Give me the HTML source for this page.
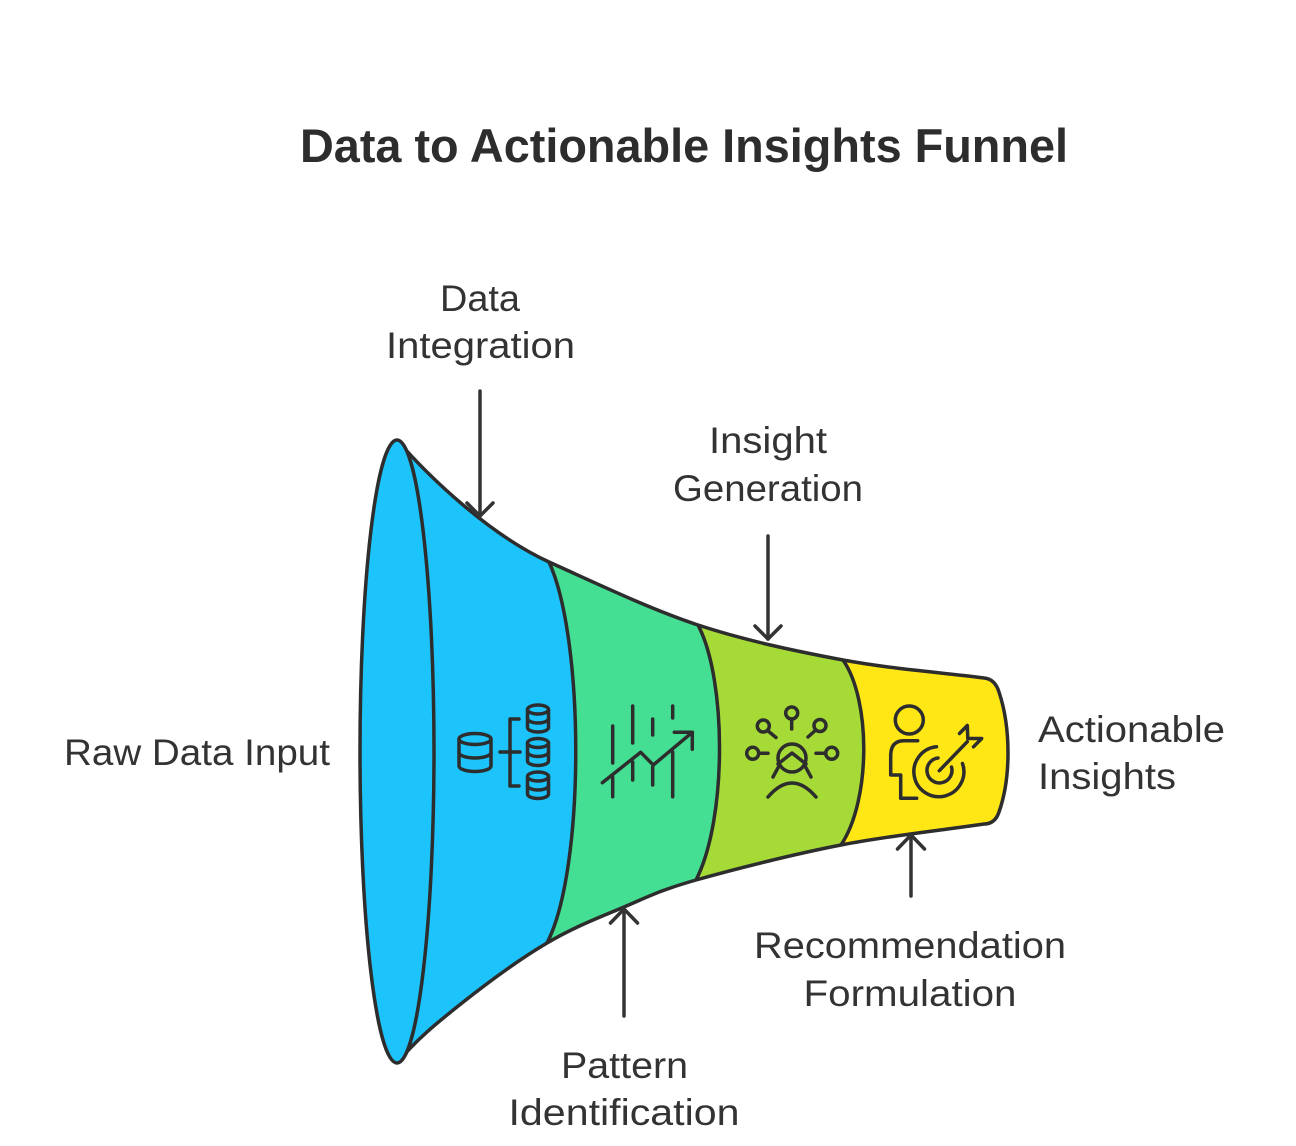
<!DOCTYPE html>
<html>
<head>
<meta charset="utf-8">
<style>
  html,body{margin:0;padding:0;background:#ffffff;}
  svg{display:block;}
  .lbl{font-family:"Liberation Sans",Arial,sans-serif;font-size:37px;fill:#333333;}
  .ttl{font-family:"Liberation Sans",Arial,sans-serif;font-size:47px;font-weight:bold;fill:#2d2d2d;}
  .ic{fill:none;stroke:#2d2d2d;stroke-width:3.5;stroke-linecap:round;stroke-linejoin:round;}
  .ar{fill:none;stroke:#333333;stroke-width:3.5;stroke-linecap:round;stroke-linejoin:round;}
</style>
</head>
<body>
<svg width="1296" height="1146" viewBox="0 0 1296 1146" xmlns="http://www.w3.org/2000/svg">
  <rect width="1296" height="1146" fill="#ffffff"/>

  <!-- Title -->
  <text class="ttl" x="684" y="162" text-anchor="middle" textLength="768" lengthAdjust="spacingAndGlyphs">Data to Actionable Insights Funnel</text>

  <defs>
    <clipPath id="body">
      <path d="M397,440 C430,478 490,535 549,562 C600,585 650,609 698,625 C747,641 795,651 843,660 C890.7,668.8 937,672 984,678 Q995,679 999,692 C1011,728 1011,778 999,812 Q995,824 984,824 C936.3,831 889,835.7 841,845 C793,854.3 732.2,869.7 696,880 C659.8,890.3 648.8,896.5 624,907 C599.2,917.5 574,927 547,943 C520,959 487.2,983 462,1003 C436.8,1023 416,1039.7 397,1063 A37,311.5 0 0 1 397,440 Z"/>
    </clipPath>
  </defs>

  <!-- Funnel fills -->
  <g clip-path="url(#body)">
    <rect x="300" y="300" width="800" height="850" fill="#FFE716"/>
    <path d="M300,300 L843,300 L843,660 C871,700 871,800 841,845 L841,1100 L300,1100 Z" fill="#A6DB37"/>
    <path d="M300,300 L698,300 L698,625 C727,680 727,820 696,880 L696,1100 L300,1100 Z" fill="#45DF94"/>
    <path d="M300,300 L549,300 L549,562 C585,640 585,870 547,943 L547,1100 L300,1100 Z" fill="#1DC4FB"/>
  </g>

  <!-- Funnel strokes -->
  <path d="M397,440 C430,478 490,535 549,562 C600,585 650,609 698,625 C747,641 795,651 843,660 C890.7,668.8 937,672 984,678 Q995,679 999,692 C1011,728 1011,778 999,812 Q995,824 984,824 C936.3,831 889,835.7 841,845 C793,854.3 732.2,869.7 696,880 C659.8,890.3 648.8,896.5 624,907 C599.2,917.5 574,927 547,943 C520,959 487.2,983 462,1003 C436.8,1023 416,1039.7 397,1063" fill="none" stroke="#2d2d2d" stroke-width="3.5" stroke-linejoin="round"/>
  <ellipse cx="397" cy="751.5" rx="37" ry="311.5" fill="#1DC4FB" stroke="#2d2d2d" stroke-width="3.5"/>
  <path d="M549,562 C585,640 585,870 547,943" fill="none" stroke="#2d2d2d" stroke-width="3.5"/>
  <path d="M698,625 C727,680 727,820 696,880" fill="none" stroke="#2d2d2d" stroke-width="3.5"/>
  <path d="M843,660 C871,700 871,800 841,845" fill="none" stroke="#2d2d2d" stroke-width="3.5"/>

  <!-- Icon 1: databases -->
  <g class="ic">
    <ellipse cx="475" cy="739" rx="16" ry="5.5"/>
    <path d="M459,739 V766 A16,5.5 0 0 0 491,766 V739"/>
    <path d="M459,752.5 A16,5.5 0 0 0 491,752.5"/>
    <path d="M500,752 H520"/>
    <path d="M519,719 H510 V786 H519"/>
    <ellipse cx="538" cy="709.5" rx="10.5" ry="4.5"/>
    <path d="M527.5,709.5 V727.5 A10.5,4.5 0 0 0 548.5,727.5 V709.5"/>
    <path d="M527.5,718.5 A10.5,4.5 0 0 0 548.5,718.5"/>
    <ellipse cx="538" cy="743" rx="10.5" ry="4.5"/>
    <path d="M527.5,743 V761 A10.5,4.5 0 0 0 548.5,761 V743"/>
    <path d="M527.5,752 A10.5,4.5 0 0 0 548.5,752"/>
    <ellipse cx="538" cy="776.5" rx="10.5" ry="4.5"/>
    <path d="M527.5,776.5 V794 A10.5,4.5 0 0 0 548.5,794 V776.5"/>
    <path d="M527.5,785.5 A10.5,4.5 0 0 0 548.5,785.5"/>
  </g>

  <!-- Icon 2: chart -->
  <g class="ic">
    <path d="M612.7,726 V763"/>
    <path d="M612.7,777 V796.7"/>
    <path d="M632.7,706 V743"/>
    <path d="M632.7,762 V780"/>
    <path d="M652.7,719 V735"/>
    <path d="M652.7,767 V785"/>
    <path d="M672.7,706 V718"/>
    <path d="M672.7,752 V796.7"/>
    <path d="M602.3,782.7 L640.7,752.3 L653.3,765 L692.3,732.3"/>
    <path d="M674.3,732.3 H692.3 V749.3"/>
  </g>

  <!-- Icon 3: person with nodes -->
  <g class="ic">
    <circle cx="792" cy="758" r="14"/>
    <path d="M778,764 L792,753 L806,764"/>
    <path d="M779,766 L773,777"/>
    <path d="M805,766 L811,777"/>
    <path d="M768,797 Q792,769 816,797"/>
    <circle cx="791.7" cy="713" r="6"/>
    <path d="M791.7,719 V729"/>
    <circle cx="763.3" cy="726" r="6"/>
    <path d="M767.5,730.5 L776,737.5"/>
    <circle cx="820" cy="725.5" r="6"/>
    <path d="M815.8,730 L808,737"/>
    <circle cx="752.7" cy="753.3" r="6"/>
    <path d="M758.7,753.3 H768"/>
    <circle cx="831.7" cy="753.3" r="6"/>
    <path d="M825.7,753.3 H816"/>
  </g>

  <!-- Icon 4: person with target -->
  <g class="ic">
    <circle cx="909.3" cy="720" r="14"/>
    <path d="M917.7,740.7 H903.5 Q891,741 890.7,755 V775 H900.7 V798.3 H916.7"/>
    <path d="M936.5,746.8 A25,25 0 1 0 962.5,763.5"/>
    <path d="M938,758 A12.5,12.5 0 1 0 951.5,767"/>
    <path d="M939.3,770.7 L967.3,741.7"/>
    <path d="M959.5,733.5 L967.3,725.5 L967.8,738.5 L981.7,738.5 L973.5,746.8"/>
  </g>

  <!-- Arrows -->
  <g class="ar">
    <path d="M480,391 V516"/>
    <path d="M467,503 L480,516 L493,503"/>
    <path d="M768,536 V639"/>
    <path d="M755,626 L768,639 L781,626"/>
    <path d="M624,1016 V909"/>
    <path d="M610.5,923 L624,909 L637.5,923"/>
    <path d="M911,896 V835"/>
    <path d="M897.5,849 L911,835 L924.5,849"/>
  </g>

  <!-- Labels -->
  <text class="lbl" x="480" y="311" text-anchor="middle" textLength="80" lengthAdjust="spacingAndGlyphs">Data</text>
  <text class="lbl" x="480.5" y="358" text-anchor="middle" textLength="189" lengthAdjust="spacingAndGlyphs">Integration</text>

  <text class="lbl" x="768" y="453" text-anchor="middle" textLength="118" lengthAdjust="spacingAndGlyphs">Insight</text>
  <text class="lbl" x="768" y="501" text-anchor="middle" textLength="190" lengthAdjust="spacingAndGlyphs">Generation</text>

  <text class="lbl" x="64" y="765" textLength="266" lengthAdjust="spacingAndGlyphs">Raw Data Input</text>

  <text class="lbl" x="1038" y="742" textLength="187" lengthAdjust="spacingAndGlyphs">Actionable</text>
  <text class="lbl" x="1038" y="789" textLength="138" lengthAdjust="spacingAndGlyphs">Insights</text>

  <text class="lbl" x="910" y="958" text-anchor="middle" textLength="312" lengthAdjust="spacingAndGlyphs">Recommendation</text>
  <text class="lbl" x="910" y="1006" text-anchor="middle" textLength="213" lengthAdjust="spacingAndGlyphs">Formulation</text>

  <text class="lbl" x="624.5" y="1078" text-anchor="middle" textLength="127" lengthAdjust="spacingAndGlyphs">Pattern</text>
  <text class="lbl" x="624" y="1125" text-anchor="middle" textLength="231" lengthAdjust="spacingAndGlyphs">Identification</text>
</svg>
</body>
</html>
